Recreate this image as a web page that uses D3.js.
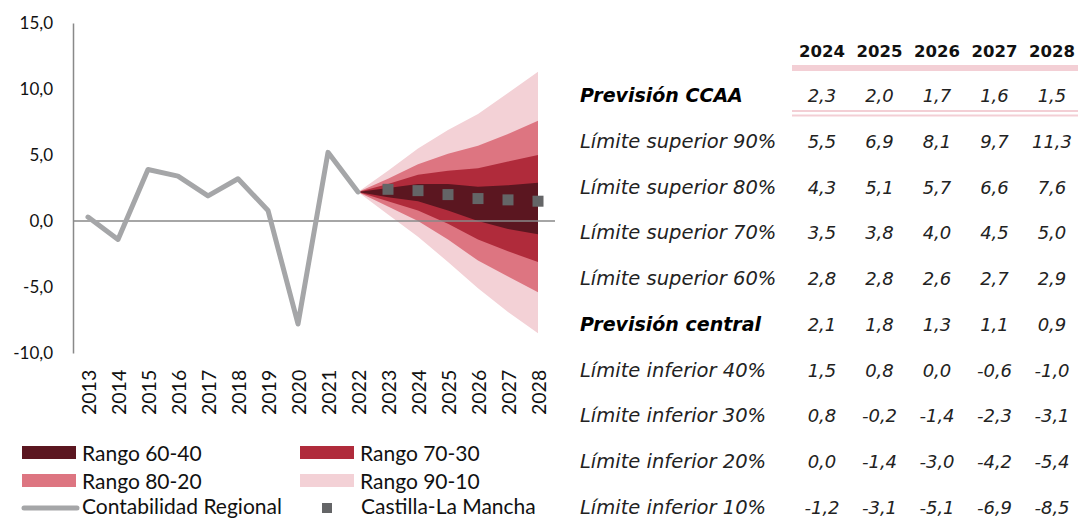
<!DOCTYPE html>
<html>
<meta charset='utf-8'>
<head>
<title>abanico de previsiones</title>
<script src='https://d3js.org/d3.v7.min.js'></script>
<style>
  body { margin: 0; background: #fff; }
</style>
</head>
<body>
<div id='my_dataviz'></div>
<script>
// historical series (Contabilidad Regional)
var histYears = [2013, 2014, 2015, 2016, 2017, 2018, 2019, 2020, 2021, 2022]
var histValues = [0.3, -1.4, 3.9, 3.4, 1.9, 3.2, 0.8, -7.8, 5.2, 2.2]

// fan chart limits, 2022 is the common starting point
var fanYears = [2022, 2023, 2024, 2025, 2026, 2027, 2028]
var sup90 = [2.2, 3.8, 5.5, 6.9, 8.1, 9.7, 11.3]
var sup80 = [2.2, 3.2, 4.3, 5.1, 5.7, 6.6, 7.6]
var sup70 = [2.2, 2.8, 3.5, 3.8, 4.0, 4.5, 5.0]
var sup60 = [2.2, 2.5, 2.8, 2.8, 2.6, 2.7, 2.9]
var inf40 = [2.2, 1.8, 1.5, 0.8, 0.0, -0.6, -1.0]
var inf30 = [2.2, 1.5, 0.8, -0.2, -1.4, -2.3, -3.1]
var inf20 = [2.2, 1.1, 0.0, -1.4, -3.0, -4.2, -5.4]
var inf10 = [2.2, 0.5, -1.2, -3.1, -5.1, -6.9, -8.5]

// Castilla-La Mancha markers
var clmYears = [2023, 2024, 2025, 2026, 2027, 2028]
var clmValues = [2.4, 2.3, 2.0, 1.7, 1.6, 1.5]

// table
var tableYears = [2024, 2025, 2026, 2027, 2028]
var prevCCAA = [2.3, 2.0, 1.7, 1.6, 1.5]
var prevCentral = [2.1, 1.8, 1.3, 1.1, 0.9]

var yTicks = [-10, -5, 0, 5, 10, 15]

var bandNames = ['Rango 60-40', 'Rango 70-30', 'Rango 80-20', 'Rango 90-10']
var bandColors = ['#5b1620', '#b02b3b', '#dd7581', '#f3d1d6']

var W = 1080, H = 519
var svg = d3.select('#my_dataviz')
  .append('svg')
    .attr('width', W)
    .attr('height', H)

var loc = d3.formatLocale({decimal: ',', thousands: '.', grouping: [3], currency: ['', ''], minus: '-'})
var fmt = loc.format('.1f')

var x = d3.scaleLinear()
  .domain([2013, 2028])
  .range([88, 538])
var y = d3.scaleLinear()
  .domain([-10, 15])
  .range([353, 23])

var axisColor = '#898989'
var chartFont = 'Lato, sans-serif'

// fan bands, same order as bandColors; widest drawn first
var bands = [[inf40, sup60], [inf30, sup70], [inf20, sup80], [inf10, sup90]]
var fanG = svg.append('g')
for (var b = bands.length - 1; b >= 0; b--) {
  var lo = bands[b][0], hi = bands[b][1]
  var area = d3.area()
    .x(function(d, i) { return x(fanYears[i]) })
    .y0(function(d, i) { return y(lo[i]) })
    .y1(function(d, i) { return y(hi[i]) })
  fanG.append('path')
    .datum(fanYears)
    .attr('d', area)
    .attr('fill', bandColors[b])
}

// y axis
var yAxis = svg.append('g')
  .attr('transform', 'translate(73,0)')
  .call(d3.axisLeft(y).tickValues(yTicks).tickFormat(fmt).tickSize(0).tickPadding(20))
yAxis.select('.domain').attr('stroke', axisColor).attr('stroke-width', 1.5)
yAxis.selectAll('text')
  .style('font-family', chartFont)
  .style('font-size', '17px')
  .attr('fill', '#111')

// zero line
svg.append('line')
  .attr('x1', 73).attr('x2', 555)
  .attr('y1', y(0)).attr('y2', y(0))
  .attr('stroke', axisColor)
  .attr('stroke-width', 1.5)

// x axis labels
var allYears = d3.range(2013, 2029)
var xAxis = svg.append('g')
  .attr('transform', 'translate(0,415)')
  .call(d3.axisBottom(x).tickValues(allYears).tickFormat(d3.format('d')).tickSize(0))
xAxis.select('.domain').remove()
xAxis.selectAll('text')
  .attr('transform', 'rotate(-90)')
  .attr('x', 0)
  .attr('y', 0)
  .attr('dy', '0.36em')
  .style('text-anchor', 'start')
  .style('font-family', chartFont)
  .style('font-size', '19.5px')
  .attr('fill', '#111')

// historical line
var line = d3.line()
  .x(function(d, i) { return x(histYears[i]) })
  .y(function(d) { return y(d) })
svg.append('path')
  .datum(histValues)
  .attr('d', line)
  .attr('fill', 'none')
  .attr('stroke', '#a5a6a8')
  .attr('stroke-width', 5)
  .attr('stroke-linejoin', 'round')
  .attr('stroke-linecap', 'round')

// CLM squares
svg.selectAll('rect.clm')
  .data(clmValues)
  .enter()
  .append('rect')
  .attr('class', 'clm')
  .attr('x', function(d, i) { return x(clmYears[i]) - 5.5 })
  .attr('y', function(d) { return y(d) - 5.5 })
  .attr('width', 11)
  .attr('height', 11)
  .attr('fill', '#646567')

// legend
var legend = svg.append('g').style('font-family', chartFont).style('font-size', '21px')
var legPos = [[22, 446], [300, 446], [22, 474], [300, 474]]
for (var k = 0; k < bandNames.length; k++) {
  legend.append('rect')
    .attr('x', legPos[k][0]).attr('y', legPos[k][1])
    .attr('width', 54).attr('height', 13)
    .attr('fill', bandColors[k])
  legend.append('text')
    .attr('x', legPos[k][0] + 60).attr('y', legPos[k][1] + 15)
    .attr('fill', '#111')
    .text(bandNames[k])
}
legend.append('line')
  .attr('x1', 24).attr('x2', 77)
  .attr('y1', 508).attr('y2', 508)
  .attr('stroke', '#a5a6a8')
  .attr('stroke-width', 5)
  .attr('stroke-linecap', 'round')
legend.append('text')
  .attr('x', 82).attr('y', 514)
  .attr('fill', '#111')
  .text('Contabilidad Regional')
legend.append('rect')
  .attr('x', 322).attr('y', 503)
  .attr('width', 10).attr('height', 10)
  .attr('fill', '#646567')
legend.append('text')
  .attr('x', 361).attr('y', 514)
  .attr('fill', '#111')
  .text('Castilla-La Mancha')

// table
var tableFont = "'DejaVu Sans', sans-serif"
var colX = d3.scalePoint()
  .domain(tableYears)
  .range([822, 1052])
var tbl = svg.append('g').style('font-family', tableFont)

tbl.selectAll('text.hdr')
  .data(tableYears)
  .enter()
  .append('text')
  .attr('class', 'hdr')
  .attr('x', function(d) { return colX(d) })
  .attr('y', 57)
  .attr('text-anchor', 'middle')
  .style('font-size', '16.5px')
  .style('font-weight', 'bold')
  .style('font-style', 'normal')
  .attr('fill', '#111')
  .text(function(d) { return d })

var pink = '#f3cfd5'
tbl.append('rect').attr('x', 792).attr('y', 65).attr('width', 286).attr('height', 6).attr('fill', pink)
tbl.append('rect').attr('x', 792).attr('y', 110).attr('width', 286).attr('height', 2).attr('fill', pink)
tbl.append('rect').attr('x', 792).attr('y', 114.5).attr('width', 286).attr('height', 2).attr('fill', pink)

var rows = [
  {label: 'Previsión CCAA', vals: prevCCAA, bold: true},
  {label: 'Límite superior 90%', vals: sup90.slice(2)},
  {label: 'Límite superior 80%', vals: sup80.slice(2)},
  {label: 'Límite superior 70%', vals: sup70.slice(2)},
  {label: 'Límite superior 60%', vals: sup60.slice(2)},
  {label: 'Previsión central', vals: prevCentral, bold: true},
  {label: 'Límite inferior 40%', vals: inf40.slice(2)},
  {label: 'Límite inferior 30%', vals: inf30.slice(2)},
  {label: 'Límite inferior 20%', vals: inf20.slice(2)},
  {label: 'Límite inferior 10%', vals: inf10.slice(2)}
]
var rowY = d3.scaleLinear().domain([0, rows.length - 1]).range([102, 514])

rows.forEach(function(r, i) {
  tbl.append('text')
    .attr('x', 580)
    .attr('y', rowY(i))
    .style('font-size', r.bold ? '19px' : '19.5px')
    .style('font-style', 'italic')
    .style('font-weight', r.bold ? 'bold' : 'normal')
    .attr('fill', r.bold ? '#000' : '#222')
    .text(r.label)
  tbl.selectAll(null)
    .data(r.vals)
    .enter()
    .append('text')
    .attr('x', function(d, j) { return colX(tableYears[j]) })
    .attr('y', rowY(i))
    .attr('text-anchor', 'middle')
    .style('font-size', '18px')
    .style('font-style', 'italic')
    .attr('fill', '#222')
    .text(function(d) { return fmt(d) })
})
</script>
</body>
</html>
